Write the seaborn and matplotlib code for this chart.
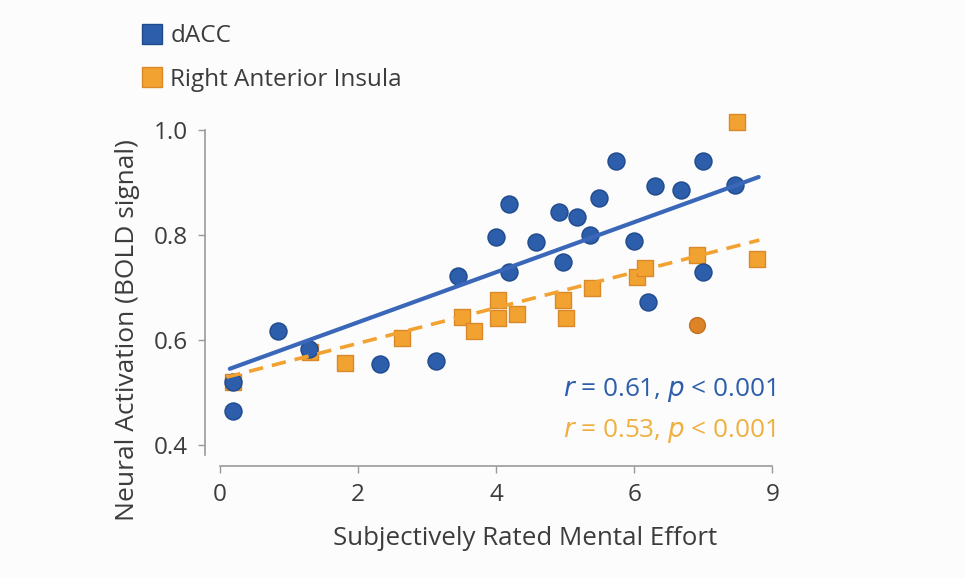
import matplotlib
matplotlib.use("Agg")
import matplotlib.pyplot as plt
from matplotlib.lines import Line2D
import seaborn as sns
import pandas as pd

# Subjective effort ratings and BOLD signal per participant
dacc_effort = [0.19, 0.84, 1.29, 0.19, 2.32, 3.12, 3.45, 3.99, 4.19, 4.19, 4.58, 4.91,
               5.17, 4.97, 5.49, 5.36, 5.74, 6.00, 6.30, 6.68, 7.00, 7.46, 6.99, 6.20]
dacc_bold = [0.466, 0.618, 0.584, 0.521, 0.555, 0.561, 0.722, 0.797, 0.859, 0.730, 0.787, 0.844,
             0.835, 0.749, 0.871, 0.800, 0.941, 0.789, 0.894, 0.886, 0.941, 0.895, 0.730, 0.673]

insula_effort = [0.19, 1.30, 1.81, 2.64, 3.51, 3.68, 4.03, 4.03, 4.30, 4.97, 5.01, 5.38,
                 6.04, 6.16, 6.91, 7.77, 7.49]
insula_bold = [0.521, 0.578, 0.557, 0.604, 0.645, 0.618, 0.677, 0.643, 0.650, 0.677, 0.643, 0.700,
               0.721, 0.737, 0.762, 0.755, 1.015]
insula_extra_effort = [6.91]
insula_extra_bold = [0.629]

# Least-squares fit lines (start / end of each line)
dacc_fit_x = [0.14, 7.80]
dacc_fit_y = [0.546, 0.911]
insula_fit_x = [0.09, 7.81]
insula_fit_y = [0.530, 0.791]

x_ticks = [0, 2, 4, 6, 8]
x_tick_labels = ["0", "2", "4", "6", "9"]
y_ticks = [0.4, 0.6, 0.8, 1.0]
y_tick_labels = ["0.4", "0.6", "0.8", "1.0"]

series_names = ["dACC", "Right Anterior Insula"]
stats_text = [("0.61", "0.001"), ("0.53", "0.001")]

BLUE = "#2c5eab"
BLUE_EDGE = "#1f4a8c"
BLUE_LINE = "#3b67b9"
ORANGE = "#f2a230"
ORANGE_EDGE = "#d9882a"
ORANGE_TXT = "#f0b040"
GREY = "#9a9a9a"
TEXT = "#3c3c3c"

sns.set_theme(style="white")
plt.rcParams["font.family"] = ["Open Sans", "DejaVu Sans"]

fig = plt.figure(figsize=(9.65, 5.78), dpi=100, facecolor="#fcfcfd")
ax = fig.add_axes([0.2124, 0.1938, 0.631, 0.6263])
ax.set_facecolor("#fcfcfd")

df_dacc = pd.DataFrame({"effort": dacc_effort, "bold": dacc_bold})
df_ins = pd.DataFrame({"effort": insula_effort, "bold": insula_bold})
df_ins_extra = pd.DataFrame({"effort": insula_extra_effort, "bold": insula_extra_bold})

sns.scatterplot(data=df_ins, x="effort", y="bold", ax=ax, marker="s", s=120,
                color=ORANGE, edgecolor=ORANGE_EDGE, linewidth=1.0, zorder=2)
sns.scatterplot(data=df_ins_extra, x="effort", y="bold", ax=ax, marker="o", s=130,
                color="#dd8428", edgecolor="#c47020", linewidth=1.0, zorder=2)
sns.scatterplot(data=df_dacc, x="effort", y="bold", ax=ax, marker="o", s=150,
                color=BLUE, edgecolor=BLUE_EDGE, linewidth=1.0, zorder=3)

sns.lineplot(x=dacc_fit_x, y=dacc_fit_y, ax=ax, color=BLUE_LINE, linewidth=3.0, zorder=4)
sns.lineplot(x=insula_fit_x, y=insula_fit_y, ax=ax, color=ORANGE, linewidth=2.6,
             linestyle=(0, (4, 2.5)), zorder=4)

ax.set_xlim(-0.22, 8.6)
ax.set_ylim(0.361, 1.05)
ax.set_xticks(x_ticks)
ax.set_xticklabels(x_tick_labels)
ax.set_yticks(y_ticks)
ax.set_yticklabels(y_tick_labels)

for side in ("top", "right"):
    ax.spines[side].set_visible(False)
for side in ("left", "bottom"):
    ax.spines[side].set_color(GREY)
    ax.spines[side].set_linewidth(1.2)
ax.spines["bottom"].set_bounds(0, 8)
ax.spines["left"].set_bounds(0.382, 1.0)

ax.tick_params(axis="both", which="major", length=5, width=1, color=GREY,
               labelsize=17.5, labelcolor=TEXT, direction="out", pad=7)
ax.tick_params(axis="x", bottom=True)
ax.tick_params(axis="y", left=True)

ax.set_xlabel("Subjectively Rated Mental Effort", fontsize=18.6, color=TEXT)
ax.set_ylabel("Neural Activation (BOLD signal)", fontsize=19, color=TEXT)
ax.xaxis.set_label_coords(0.525, -0.165)
ax.yaxis.set_label_coords(-0.107, 0.376)

# Correlation statistics, right aligned
colors_txt = [BLUE, ORANGE_TXT]
y_pos = [0.506, 0.427]
for (rv, pv), c, yy in zip(stats_text, colors_txt, y_pos):
    ax.text(8.04, yy, rf"$\it{{r}}$ = {rv}, $\it{{p}}$ < {pv}", color=c, fontsize=18.8,
            ha="right", va="center")

# Legend with square swatches
handles = [Line2D([], [], marker="s", linestyle="none", markersize=14,
                  markerfacecolor=BLUE, markeredgecolor=BLUE_EDGE),
           Line2D([], [], marker="s", linestyle="none", markersize=14,
                  markerfacecolor=ORANGE, markeredgecolor=ORANGE_EDGE)]
fig.legend(handles, series_names, loc="upper left", bbox_to_anchor=(0.1225, 0.996),
           frameon=False, fontsize=17.5, labelcolor=TEXT, handletextpad=0.25,
           labelspacing=0.8, handlelength=1.0)

fig.savefig("out.png", dpi=100, facecolor=fig.get_facecolor())
